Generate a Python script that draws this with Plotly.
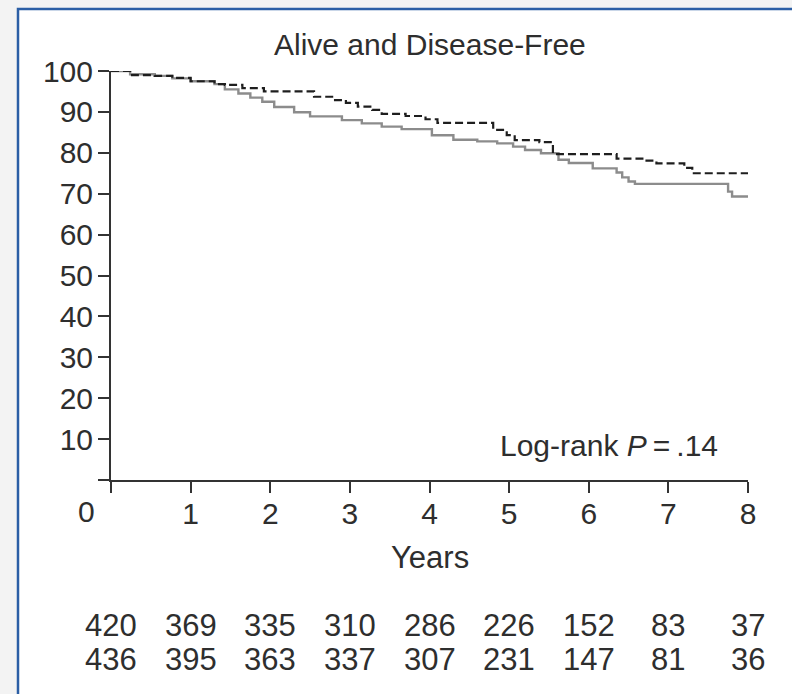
import plotly.graph_objects as go

# Kaplan-Meier step data (years, % alive and disease-free)
dashed_t = [0, 0.24, 0.55, 0.77, 1.0, 1.3, 1.43, 1.65, 1.92, 2.55, 2.8, 2.95, 3.1, 3.28, 3.4, 3.7,
            3.95, 4.1, 4.8, 4.97, 5.07, 5.38, 5.55, 6.35, 6.7, 6.85, 7.2, 7.3, 8.0]
dashed_s = [100, 99.0, 98.8, 98.3, 97.5, 96.8, 96.6, 95.8, 95.0, 93.7, 92.9, 92.2, 91.3, 90.5, 89.5, 89.0,
            88.2, 87.3, 85.6, 84.3, 83.1, 82.6, 79.7, 78.6, 78.1, 77.4, 76.3, 75.0, 75.0]

solid_t = [0, 0.24, 0.55, 0.77, 1.0, 1.3, 1.43, 1.6, 1.75, 1.9, 2.05, 2.3, 2.5, 2.9, 3.15, 3.4, 3.65,
           4.03, 4.3, 4.6, 4.85, 5.05, 5.2, 5.4, 5.62, 5.75, 6.05, 6.35, 6.42, 6.5, 6.58, 7.75, 7.8, 8.0]
solid_s = [100, 99.2, 98.8, 98.2, 97.5, 96.8, 95.5, 94.5, 93.5, 92.5, 91.2, 89.9, 88.9, 88.0, 87.2, 86.4, 85.8,
           84.3, 83.2, 82.8, 82.3, 81.5, 80.7, 79.9, 78.3, 77.5, 76.2, 75.2, 74.0, 73.0, 72.4, 70.5, 69.3, 69.3]

x_ticks = [0, 1, 2, 3, 4, 5, 6, 7, 8]
x_ticktext = ["", "1", "2", "3", "4", "5", "6", "7", "8"]
y_ticks = [0, 10, 20, 30, 40, 50, 60, 70, 80, 90, 100]
y_ticktext = ["", "10", "20", "30", "40", "50", "60", "70", "80", "90", "100"]

at_risk_years = [0, 1, 2, 3, 4, 5, 6, 7, 8]
at_risk_row1 = [420, 369, 335, 310, 286, 226, 152, 83, 37]
at_risk_row2 = [436, 395, 363, 337, 307, 231, 147, 81, 36]

FONT = "Liberation Sans, Arial, sans-serif"
TXT = "#2e2e2e"
FS = 30
FS_BIG = 31

fig = go.Figure()
fig.add_trace(go.Scatter(x=solid_t, y=solid_s, mode="lines", line_shape="hv",
                         line=dict(color="#8c8c8c", width=2.4), showlegend=False, hoverinfo="skip"))
fig.add_trace(go.Scatter(x=dashed_t, y=dashed_s, mode="lines", line_shape="hv",
                         line=dict(color="#1e1e1e", width=2.2, dash="8px,4px"), showlegend=False, hoverinfo="skip"))

annotations = []
annotations.append(dict(x=4, y=1.066, xref="x", yref="paper", text="Alive and Disease-Free",
                        showarrow=False, xanchor="center", yanchor="middle",
                        font=dict(family=FONT, size=FS, color=TXT)))
annotations.append(dict(x=6.25, y=8.4, xref="x", yref="y", text="Log-rank <i>P</i>\u2009=\u2009.14",
                        showarrow=False, xanchor="center", yanchor="middle",
                        font=dict(family=FONT, size=FS, color=TXT)))
annotations.append(dict(x=4, y=-0.19, xref="x", yref="paper", text="Years",
                        showarrow=False, xanchor="center", yanchor="middle",
                        font=dict(family=FONT, size=FS_BIG, color=TXT)))
annotations.append(dict(x=0, y=-0.078, xref="x", yref="paper", text="0", xshift=-25,
                        showarrow=False, xanchor="center", yanchor="middle",
                        font=dict(family=FONT, size=FS, color=TXT)))
for yr, a, b in zip(at_risk_years, at_risk_row1, at_risk_row2):
    annotations.append(dict(x=yr, y=-0.355, xref="x", yref="paper", text=str(a),
                            showarrow=False, xanchor="center", yanchor="middle",
                            font=dict(family=FONT, size=FS_BIG, color=TXT)))
    annotations.append(dict(x=yr, y=-0.438, xref="x", yref="paper", text=str(b),
                            showarrow=False, xanchor="center", yanchor="middle",
                            font=dict(family=FONT, size=FS_BIG, color=TXT)))

shapes = [dict(type="rect", xref="paper", yref="paper", x0=-0.146, x1=1.3, y0=-0.8, y1=1.1516,
               fillcolor="white", line=dict(color="#2b5ea5", width=2.5), layer="below")]

fig.update_layout(
    width=792, height=694,
    margin=dict(l=111, r=44, t=71, b=214),
    paper_bgcolor="#f3f3f3", plot_bgcolor="rgba(0,0,0,0)",
    font=dict(family=FONT, size=FS, color=TXT),
    annotations=annotations, shapes=shapes,
    xaxis=dict(range=[0, 8], tickvals=x_ticks, ticktext=x_ticktext, showgrid=False, zeroline=False,
               showline=True, linecolor="#333", linewidth=2, ticks="outside", ticklen=11, tickwidth=2,
               tickcolor="#333", tickfont=dict(family=FONT, size=FS, color=TXT), ticklabelstandoff=-5),
    yaxis=dict(range=[0, 100], tickvals=y_ticks, ticktext=y_ticktext, showgrid=False, zeroline=False,
               showline=True, linecolor="#333", linewidth=2, ticks="outside", ticklen=11, tickwidth=2,
               tickcolor="#333", tickfont=dict(family=FONT, size=FS, color=TXT), ticklabelstandoff=-1),
)

fig.write_html("out.html", config={"displayModeBar": False},
               post_script="document.body.style.margin='0';document.body.style.overflow='hidden';")
